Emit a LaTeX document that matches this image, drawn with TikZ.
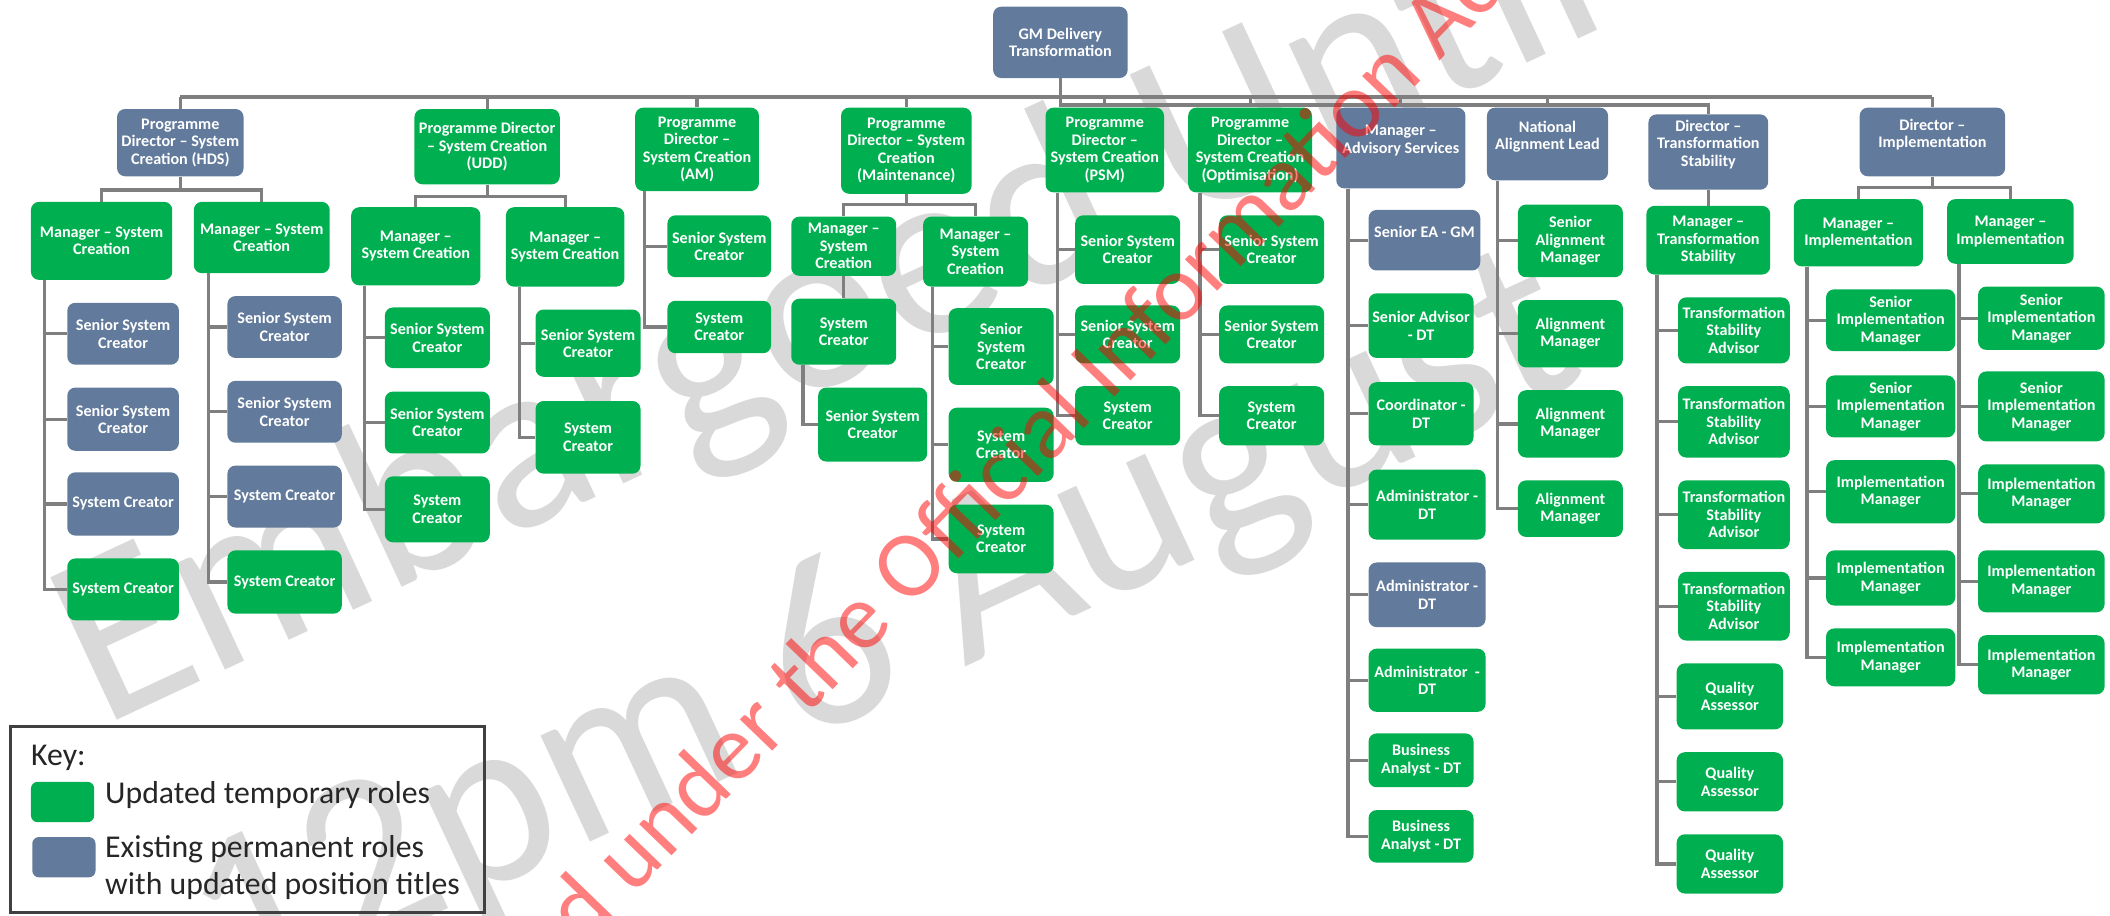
\documentclass[tikz,border=0pt]{standalone}
\usepackage{fontspec}
\setmainfont{Carlito}
\definecolor{gboxc}{HTML}{00B050}
\definecolor{bboxc}{HTML}{627A9B}
\definecolor{connc}{HTML}{7F7F7F}
\definecolor{wmc}{HTML}{D9D9D9}
\definecolor{keyc}{HTML}{404040}
\definecolor{keytxt}{HTML}{262626}
\newcommand{\boxfont}{\fontsize{12}{13}\selectfont\bfseries}
\newcommand{\keyfont}{\fontsize{23.6}{27}\selectfont}
\newcommand{\spine}[3]{%
  \coordinate (#1s) at ([xshift=#2pt]#1.south west);
  \foreach \c in {#3} {\draw[conn] (#1s) |- (\c.west);}}
\tikzset{
  box/.style={rounded corners=6pt, inner sep=0pt, text=white, align=center, font=\boxfont},
  gb/.style={box, fill=gboxc},
  bb/.style={box, fill=bboxc},
  conn/.style={draw=connc, line width=2.4pt},
  wm/.style={text=wmc, font=\fontsize{182}{220}\selectfont, inner sep=0pt, anchor=base west, rotate=25},
  rt/.style={text=red, text opacity=0.5, font=\fontsize{70}{80}\selectfont, inner sep=0pt, anchor=base west, rotate=46},
  keytext/.style={text=keytxt, font=\keyfont, inner sep=0pt, anchor=base west}
}
\begin{document}
\begin{tikzpicture}[x=1pt,y=-1pt]
\useasboundingbox (0,0) rectangle (1568,680);
\clip (0,0) rectangle (1568,680);
\fill[white] (0,0) rectangle (1568,680);
% grey watermark
\node[wm] (wm1) at (75,541) {Embargoed Until};
\node[wm] (wm2) at (173,750) {12pm 6 August};
\coordinate (b1) at (0,72);
\coordinate (b2) at (0,78);
% top
\node[bb, minimum width=100, minimum height=53] (gm) at (788,31.5) {GM Delivery\\Transformation};
% level 1
\node[bb, minimum width=94, minimum height=50] (hds) at (134,106) {Programme\\Director – System\\Creation (HDS)};
\node[gb, minimum width=108, minimum height=56] (udd) at (362,109) {Programme Director\\– System Creation\\(UDD)};
\node[gb, minimum width=92, minimum height=62] (am) at (518,111) {Programme\\Director –\\System Creation\\(AM)};
\node[gb, minimum width=97, minimum height=64] (mnt) at (673.5,112) {Programme\\Director – System\\Creation\\(Maintenance)};
\node[gb, minimum width=88, minimum height=63] (psm) at (821,111.5) {Programme\\Director –\\System Creation\\(PSM)};
\node[gb, minimum width=92, minimum height=63] (opt) at (929,111.5) {Programme\\Director –\\System Creation\\(Optimisation)};
\node[bb, minimum width=96, minimum height=60] (adv) at (1041,110) {Manager –\\Advisory Services\\\mbox{}};
\node[bb, minimum width=90, minimum height=54] (nal) at (1150,107) {National\\Alignment Lead\\\mbox{}};
\node[bb, minimum width=89, minimum height=56] (dts) at (1269.5,113) {Director –\\Transformation\\Stability\\\mbox{}};
\node[bb, minimum width=108, minimum height=51] (dim) at (1436,105.5) {Director –\\Implementation\\\mbox{}};
% HDS
\node[gb, minimum width=105, minimum height=58] (hm1) at (75.5,179) {Manager – System\\Creation};
\node[gb, minimum width=101, minimum height=53] (hm2) at (194.5,176.5) {Manager – System\\Creation};
\node[bb, minimum width=83, minimum height=46] (h1a) at (91.5,248) {Senior System\\Creator};
\node[bb, minimum width=83, minimum height=47] (h1b) at (91.5,311.5) {Senior System\\Creator};
\node[bb, minimum width=83, minimum height=47] (h1c) at (91.5,374.5) {System Creator};
\node[gb, minimum width=83, minimum height=46] (h1d) at (91.5,438) {System Creator};
\node[bb, minimum width=85, minimum height=46] (h2a) at (211.5,243) {Senior System\\Creator};
\node[bb, minimum width=85, minimum height=46] (h2b) at (211.5,306) {Senior System\\Creator};
\node[bb, minimum width=85, minimum height=46] (h2c) at (211.5,369) {System Creator};
\node[gb, minimum width=85, minimum height=47] (h2d) at (211.5,432.5) {System Creator};
% UDD
\node[gb, minimum width=96, minimum height=58] (um1) at (309,183) {Manager –\\System Creation};
\node[gb, minimum width=88, minimum height=59] (um2) at (420,183.5) {Manager –\\System Creation};
\node[gb, minimum width=78, minimum height=45] (u1a) at (325,251) {Senior System\\Creator};
\node[gb, minimum width=78, minimum height=46] (u1b) at (325,314) {Senior System\\Creator};
\node[gb, minimum width=78, minimum height=49] (u1c) at (325,378.5) {System\\Creator};
\node[gb, minimum width=78, minimum height=50] (u2a) at (437,255) {Senior System\\Creator};
\node[gb, minimum width=78, minimum height=54] (u2b) at (437,325) {System\\Creator};
% AM
\node[gb, minimum width=77, minimum height=46] (a1) at (534.5,183) {Senior System\\Creator};
\node[gb, minimum width=77, minimum height=39] (a2) at (534.5,243) {System\\Creator};
% Maintenance
\node[gb, minimum width=78, minimum height=44] (mm1) at (627,183) {Manager –\\System\\Creation};
\node[gb, minimum width=78, minimum height=52] (mm2) at (725,187) {Manager –\\System\\Creation};
\node[gb, minimum width=78, minimum height=49] (msc) at (627,246.5) {System\\Creator};
\node[gb, minimum width=81, minimum height=55] (mssc) at (648.5,315.5) {Senior System\\Creator};
\node[gb, minimum width=78, minimum height=57] (m2a) at (744,257.5) {Senior\\System\\Creator};
\node[gb, minimum width=78, minimum height=55] (m2b) at (744,330.5) {System\\Creator};
\node[gb, minimum width=78, minimum height=51] (m2c) at (744,400.5) {System\\Creator};
% PSM
\node[gb, minimum width=78, minimum height=51] (p1) at (838,185.5) {Senior System\\Creator};
\node[gb, minimum width=78, minimum height=43] (p2) at (838,248.5) {Senior System\\Creator};
\node[gb, minimum width=78, minimum height=44] (p3) at (838,309) {System\\Creator};
% Optimisation
\node[gb, minimum width=78, minimum height=51] (o1) at (945,185.5) {Senior System\\Creator};
\node[gb, minimum width=78, minimum height=43] (o2) at (945,248.5) {Senior System\\Creator};
\node[gb, minimum width=78, minimum height=44] (o3) at (945,309) {System\\Creator};
% Advisory
\node[bb, minimum width=83, minimum height=45] (v1) at (1058.5,178.5) {Senior EA - GM\\\mbox{}};
\node[gb, minimum width=78, minimum height=48] (v2) at (1056,242) {Senior Advisor\\- DT};
\node[gb, minimum width=78, minimum height=47] (v3) at (1056,307.5) {Coordinator -\\DT};
\node[gb, minimum width=87, minimum height=52] (v4) at (1060.5,375) {Administrator -\\DT};
\node[bb, minimum width=87, minimum height=48] (v5) at (1060.5,442) {Administrator -\\DT};
\node[gb, minimum width=87, minimum height=47] (v6) at (1060.5,505.5) {Administrator~~-\\DT};
\node[gb, minimum width=78, minimum height=40] (v7) at (1056,565) {Business\\Analyst - DT};
\node[gb, minimum width=78, minimum height=39] (v8) at (1056,621.5) {Business\\Analyst - DT};
% National alignment
\node[gb, minimum width=78, minimum height=54] (n1) at (1167,179) {Senior\\Alignment\\Manager};
\node[gb, minimum width=78, minimum height=50] (n2) at (1167,248) {Alignment\\Manager};
\node[gb, minimum width=78, minimum height=50] (n3) at (1167,315) {Alignment\\Manager};
\node[gb, minimum width=78, minimum height=42] (n4) at (1167,378) {Alignment\\Manager};
% Transformation stability
\node[gb, minimum width=92, minimum height=51] (tm) at (1269.5,178.5) {Manager –\\Transformation\\Stability};
\node[gb, minimum width=83, minimum height=49] (t1) at (1288.5,245.5) {Transformation\\Stability\\Advisor};
\node[gb, minimum width=83, minimum height=53] (t2) at (1288.5,313.5) {Transformation\\Stability\\Advisor};
\node[gb, minimum width=83, minimum height=51] (t3) at (1288.5,382.5) {Transformation\\Stability\\Advisor};
\node[gb, minimum width=83, minimum height=51] (t4) at (1288.5,450.5) {Transformation\\Stability\\Advisor};
\node[gb, minimum width=79, minimum height=49] (q1) at (1285.5,517.5) {Quality\\Assessor};
\node[gb, minimum width=79, minimum height=44] (q2) at (1285.5,581) {Quality\\Assessor};
\node[gb, minimum width=79, minimum height=44] (q3) at (1285.5,642) {Quality\\Assessor};
% Implementation
\node[gb, minimum width=96, minimum height=50] (im1) at (1381,173) {Manager –\\Implementation};
\node[gb, minimum width=94, minimum height=48] (im2) at (1494,172) {Manager –\\Implementation};
\node[gb, minimum width=96, minimum height=46] (i1a) at (1405,238) {Senior\\Implementation\\Manager};
\node[gb, minimum width=96, minimum height=46] (i1b) at (1405,302) {Senior\\Implementation\\Manager};
\node[gb, minimum width=96, minimum height=47] (i1c) at (1405,365.5) {Implementation\\Manager};
\node[gb, minimum width=96, minimum height=41] (i1d) at (1405,429.5) {Implementation\\Manager};
\node[gb, minimum width=96, minimum height=43] (i1e) at (1405,488.5) {Implementation\\Manager};
\node[gb, minimum width=94, minimum height=47] (i2a) at (1517,236.5) {Senior\\Implementation\\Manager};
\node[gb, minimum width=94, minimum height=52] (i2b) at (1517,302) {Senior\\Implementation\\Manager};
\node[gb, minimum width=94, minimum height=44] (i2c) at (1517,367) {Implementation\\Manager};
\node[gb, minimum width=94, minimum height=46] (i2d) at (1517,432) {Implementation\\Manager};
\node[gb, minimum width=94, minimum height=44] (i2e) at (1517,494) {Implementation\\Manager};
% connectors: top
\draw[conn] (hds.north |- b1) -- (dim.north |- b1);
\foreach \n in {hds,udd,am,mnt,psm,opt,adv,nal,dim} {\draw[conn] (\n.north |- b1) -- (\n.north);}
\draw[conn] (gm.south) -- (gm.south |- b2) -- (dts.north |- b2) -- (dts.north);
% level 2 buses
\draw[conn] (hds.south) -- ++(0,10) coordinate (hdsb);
\draw[conn] (hm1.north) |- (hdsb) -| (hm2.north);
\draw[conn] (udd.south) -- ++(0,9) coordinate (uddb);
\draw[conn] (um1.north) |- (uddb) -| (um2.north);
\draw[conn] (mnt.south) -- ++(0,8) coordinate (mntb);
\draw[conn] (mm1.north) |- (mntb) -| (mm2.north);
\draw[conn] (dim.south) -- ++(0,8) coordinate (dimb);
\draw[conn] (im1.north) |- (dimb) -| (im2.north);
\draw[conn] (dts.south) -- (dts.south |- tm.north);
\draw[conn] (mm1.south) -- (msc.north);
% spines
\spine{hm1}{10}{h1a,h1b,h1c,h1d}
\spine{hm2}{11}{h2a,h2b,h2c,h2d}
\spine{um1}{10}{u1a,u1b,u1c}
\spine{um2}{10}{u2a,u2b}
\spine{am}{7}{a1,a2}
\spine{msc}{9}{mssc}
\spine{mm2}{7}{m2a,m2b,m2c}
\spine{psm}{9}{p1,p2,p3}
\spine{opt}{9}{o1,o2,o3}
\spine{adv}{9}{v1,v2,v3,v4,v5,v6,v7,v8}
\spine{nal}{8}{n1,n2,n3,n4}
\spine{tm}{8}{t1,t2,t3,t4,q1,q2,q3}
\spine{im1}{10}{i1a,i1b,i1c,i1d,i1e}
\spine{im2}{9}{i2a,i2b,i2c,i2d,i2e}
% key
\node[draw=keyc, line width=2.4pt, minimum width=352, minimum height=138, inner sep=0pt] (key) at (184,609) {};
\node[keytext] (keyt) at (23,569) {Key:};
\node[gb, rounded corners=5pt, minimum width=47, minimum height=30] (kg) at (46.5,596) {};
\node[bb, rounded corners=5pt, minimum width=47, minimum height=30] (kb) at (47.5,637) {};
\node[keytext] (kgt) at (78,597) {Updated temporary roles};
\node[keytext] (kbt1) at (78,637) {Existing permanent roles};
\node[keytext] (kbt2) at (78,665) {with updated position titles};
% red watermark
\node[rt] (wm3) at (282,861) {Released under the Official Information Act};
\end{tikzpicture}
\end{document}
